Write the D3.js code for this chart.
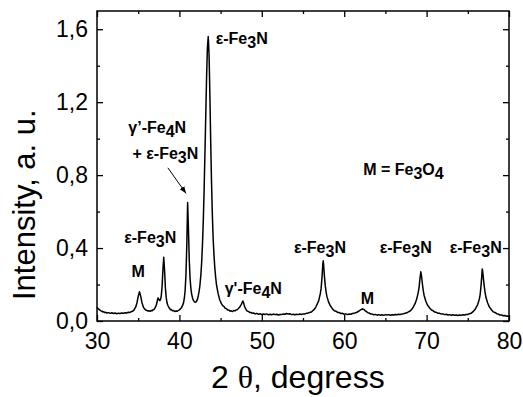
<!DOCTYPE html>
<html>
<head>
<meta charset="utf-8">
<script src="https://cdn.jsdelivr.net/npm/d3@7"></script>
<style>
  html, body { margin: 0; padding: 0; background: #fff; }
  svg { display: block; }
  text { font-family: "Liberation Sans", Arial, sans-serif; fill: #000; }
</style>
</head>
<body>
<svg id="chart" width="523" height="397"></svg>
<script>
// ---- data ----
const twoTheta = [
  30.0,30.1,30.2,30.3,30.4,30.5,30.6,30.7,30.8,30.9,31.0,31.2,31.4,31.6,31.8,32.0,32.2,32.4,32.6,32.8,33.0,33.2,33.4,33.6,33.8,34.0,34.15,34.3,
  34.5,34.7,34.85,35.0,35.15,35.3,35.45,35.6,35.7,35.8,35.9,36.0,36.15,36.3,36.45,36.6,36.7,36.8,36.9,
  37.0,37.2,37.4,37.5,37.6,37.7,37.8,37.9,38.0,38.1,38.2,38.3,38.4,38.5,38.6,38.8,38.9,39.0,39.15,39.3,39.45,39.6,39.75,39.9,40.0,40.1,40.2,40.3,40.4,
  40.5,40.6,40.7,40.8,40.9,41.0,41.1,41.2,41.3,41.4,41.5,41.6,41.7,41.8,41.9,42.0,42.1,42.2,42.3,42.4,42.5,42.6,42.7,42.8,42.9,43.0,43.1,43.2,43.3,43.4,43.5,43.6,
  43.7,43.8,43.9,44.0,44.1,44.2,44.3,44.4,44.5,44.7,44.9,45.1,45.25,45.4,45.55,45.7,45.85,46.0,46.15,46.3,46.45,46.6,46.75,46.9,47.0,47.1,47.3,47.5,47.6,47.7,47.8,47.9,
  48.1,48.25,48.4,48.55,48.7,48.85,49.0,49.2,49.4,49.6,49.8,50.0,50.2,50.4,50.6,50.8,51.0,51.2,51.4,51.6,51.8,52.0,52.2,52.4,52.6,52.8,53.0,53.2,53.4,53.6,53.8,
  54.0,54.2,54.4,54.6,54.8,55.0,55.2,55.4,55.6,55.8,56.0,56.15,56.3,56.45,56.6,56.9,57.1,57.2,57.3,57.4,57.45,57.5,57.6,57.7,
  57.8,57.9,58.1,58.3,58.6,58.8,59.0,59.2,59.4,59.6,59.8,60.0,60.2,60.4,60.6,60.8,61.0,61.2,61.4,61.55,61.7,61.85,62.0,62.1,62.2,62.3,62.4,62.55,62.7,62.85,
  63.0,63.2,63.4,63.6,63.8,64.0,64.2,64.4,64.6,64.8,65.0,65.2,65.4,65.6,65.8,66.0,66.2,66.4,66.6,66.8,67.0,67.2,67.4,67.6,67.8,68.0,68.15,68.3,
  68.6,68.8,69.0,69.1,69.2,69.3,69.4,69.5,69.6,69.7,69.9,70.1,70.4,70.6,70.8,71.0,71.2,71.4,71.6,71.8,72.0,72.2,72.4,72.6,72.8,73.0,73.2,73.4,73.6,73.8,
  74.0,74.2,74.4,74.6,74.8,75.0,75.2,75.4,75.6,75.9,76.2,76.4,76.5,
  76.6,76.7,76.75,76.8,76.9,77.0,77.1,77.2,77.4,77.6,77.9,78.1,78.3,78.5,78.7,78.9,79.1,79.3,79.5,79.7,79.85,80.0
];
const intensity = [
  0.075,0.070,0.066,0.061,0.059,0.055,0.054,0.050,0.051,0.047,0.048,0.044,0.046,0.042,0.045,0.041,0.044,0.040,0.043,0.041,0.044,0.042,0.045,0.044,0.048,0.047,0.051,0.053,
  0.061,0.077,0.100,0.135,0.160,0.137,0.102,0.080,0.070,0.066,0.060,0.059,0.055,0.056,0.053,0.058,0.056,0.062,0.063,
  0.068,0.088,0.126,0.120,0.112,0.116,0.138,0.189,0.282,0.350,0.278,0.183,0.128,0.100,0.085,0.069,0.062,0.063,0.056,0.057,0.052,0.055,0.054,0.059,0.061,0.066,0.070,0.077,0.087,
  0.100,0.125,0.170,0.260,0.420,0.650,0.500,0.330,0.230,0.175,0.145,0.125,0.113,0.106,0.103,0.104,0.110,0.120,0.140,0.165,0.200,0.250,0.320,0.420,0.550,0.720,0.920,1.130,1.340,1.500,1.560,1.460,
  1.240,0.980,0.760,0.580,0.450,0.360,0.290,0.240,0.200,0.150,0.115,0.095,0.084,0.080,0.070,0.068,0.060,0.060,0.054,0.056,0.052,0.057,0.056,0.061,0.062,0.066,0.075,0.090,0.100,0.110,0.098,0.080,
  0.062,0.054,0.052,0.046,0.047,0.042,0.044,0.039,0.042,0.037,0.040,0.035,0.038,0.036,0.039,0.034,0.037,0.034,0.038,0.035,0.037,0.033,0.036,0.035,0.038,0.037,0.041,0.038,0.040,0.035,0.037,
  0.034,0.037,0.035,0.038,0.036,0.039,0.038,0.042,0.043,0.047,0.049,0.055,0.061,0.068,0.081,0.110,0.150,0.180,0.235,0.310,0.330,0.310,0.245,0.195,
  0.160,0.135,0.105,0.085,0.065,0.056,0.054,0.047,0.046,0.041,0.042,0.037,0.039,0.035,0.038,0.037,0.041,0.042,0.046,0.047,0.053,0.056,0.062,0.064,0.067,0.064,0.063,0.056,0.052,0.046,
  0.044,0.039,0.038,0.034,0.036,0.032,0.035,0.032,0.034,0.031,0.035,0.033,0.035,0.032,0.034,0.033,0.036,0.034,0.037,0.036,0.039,0.040,0.043,0.045,0.050,0.055,0.062,0.070,
  0.095,0.120,0.160,0.190,0.235,0.270,0.240,0.200,0.165,0.140,0.110,0.088,0.070,0.060,0.056,0.049,0.047,0.042,0.042,0.038,0.039,0.035,0.037,0.033,0.035,0.032,0.034,0.031,0.033,0.030,
  0.033,0.031,0.034,0.033,0.036,0.036,0.040,0.042,0.050,0.065,0.090,0.120,0.145,
  0.190,0.250,0.285,0.275,0.230,0.190,0.155,0.130,0.100,0.078,0.060,0.050,0.047,0.040,0.038,0.033,0.033,0.029,0.030,0.026,0.027,0.024
];

const xTickValues = [30, 40, 50, 60, 70, 80];
const xMinorTicks = [35, 45, 55, 65, 75];
const yTickValues = [0, 0.4, 0.8, 1.2, 1.6];
const yTickLabels = ["0,0", "0,4", "0,8", "1,2", "1,6"];
const yMinorTicks = [0.2, 0.6, 1.0, 1.4];

const xTitle = ["2 ", "θ", ", degress"];
const yTitle = "Intensity, a. u.";

// annotation texts: parts [text, subscript?]
const annoTexts = [
  [["ε-Fe", 0], ["3", 1], ["N", 0]],
  [["γ’-Fe", 0], ["4", 1], ["N", 0]],
  [["+ ε-Fe", 0], ["3", 1], ["N", 0]],
  [["ε-Fe", 0], ["3", 1], ["N", 0]],
  [["M", 0]],
  [["γ'-Fe", 0], ["4", 1], ["N", 0]],
  [["ε-Fe", 0], ["3", 1], ["N", 0]],
  [["M", 0]],
  [["ε-Fe", 0], ["3", 1], ["N", 0]],
  [["ε-Fe", 0], ["3", 1], ["N", 0]],
  [["M = Fe", 0], ["3", 1], ["O", 0], ["4", 1]]
];
// annotation anchor positions in data units (2θ, intensity)
const annoX = [44.4, 33.8, 34.3, 33.3, 34.2, 45.5, 53.9, 62.0, 64.3, 72.8, 62.3];
const annoY = [1.52, 1.03, 0.89, 0.43, 0.24, 0.148, 0.372, 0.093, 0.372, 0.372, 0.80];
const arrowFrom = [38.6, 0.84];
const arrowTo = [40.8, 0.70];

// ---- chart ----
const svg = d3.select("#chart");
const margin = { left: 97, top: 11, right: 14, bottom: 76 };
const W = 523, H = 397;
const x = d3.scaleLinear().domain([30, 80]).range([margin.left, W - margin.right]);
const y = d3.scaleLinear().domain([0, 1.7]).range([H - margin.bottom, margin.top]);

const x0 = x.range()[0], x1 = x.range()[1], y0 = y.range()[0], y1 = y.range()[1];

// curve
const pts = twoTheta.map((t, i) => [t, intensity[i]]);
svg.append("path")
  .datum(pts)
  .attr("fill", "none")
  .attr("stroke", "#000")
  .attr("stroke-width", 1.5)
  .attr("stroke-linejoin", "round")
  .attr("d", d3.line().x(d => x(d[0])).y(d => y(d[1])));

// axes
const fontTick = 23;
function styleAxis(g) {
  g.select(".domain").remove();
  g.selectAll(".tick line").attr("stroke", "#000").attr("stroke-width", 1.3);
  g.selectAll("text").attr("font-size", fontTick).attr("font-family", "Liberation Sans, Arial, sans-serif").attr("fill", "#000");
}
svg.append("g").attr("transform", `translate(0,${y0})`)
  .call(d3.axisBottom(x).tickValues(xTickValues).tickSize(-6).tickPadding(12).tickFormat(d3.format("d")))
  .call(styleAxis);
svg.append("g").attr("transform", `translate(0,${y0})`)
  .call(d3.axisBottom(x).tickValues(xMinorTicks).tickSize(-3).tickFormat(""))
  .call(styleAxis);
svg.append("g").attr("transform", `translate(0,${y1})`)
  .call(d3.axisTop(x).tickValues(xTickValues).tickSize(-6).tickFormat(""))
  .call(styleAxis);
svg.append("g").attr("transform", `translate(0,${y1})`)
  .call(d3.axisTop(x).tickValues(xMinorTicks).tickSize(-3).tickFormat(""))
  .call(styleAxis);
svg.append("g").attr("transform", `translate(${x0},0)`)
  .call(d3.axisLeft(y).tickValues(yTickValues).tickSize(-6).tickPadding(9).tickFormat((d, i) => yTickLabels[i]))
  .call(styleAxis);
svg.append("g").attr("transform", `translate(${x0},0)`)
  .call(d3.axisLeft(y).tickValues(yMinorTicks).tickSize(-3).tickFormat(""))
  .call(styleAxis);
svg.append("g").attr("transform", `translate(${x1},0)`)
  .call(d3.axisRight(y).tickValues(yTickValues).tickSize(-6).tickFormat(""))
  .call(styleAxis);
svg.append("g").attr("transform", `translate(${x1},0)`)
  .call(d3.axisRight(y).tickValues(yMinorTicks).tickSize(-3).tickFormat(""))
  .call(styleAxis);

// frame
svg.append("rect")
  .attr("x", x0).attr("y", y1).attr("width", x1 - x0).attr("height", y0 - y1)
  .attr("fill", "none").attr("stroke", "#000").attr("stroke-width", 1.5);

// axis titles
const xt = svg.append("text").attr("x", 211).attr("y", 388).attr("font-size", 32);
xt.append("tspan").text(xTitle[0]);
xt.append("tspan").attr("font-family", "Liberation Serif, Times New Roman, serif").text(xTitle[1]);
xt.append("tspan").text(xTitle[2]);

svg.append("text")
  .attr("transform", "translate(35,300) rotate(-90)")
  .attr("font-size", 31)
  .text(yTitle);

// annotations
annoTexts.forEach((parts, i) => {
  const t = svg.append("text")
    .attr("x", x(annoX[i])).attr("y", y(annoY[i]))
    .attr("font-size", 16).attr("font-weight", "bold");
  let prevSub = 0;
  parts.forEach(([s, sub]) => {
    const ts = t.append("tspan").text(s);
    const dy = (sub ? 4 : 0) - (prevSub ? 4 : 0);
    if (dy !== 0) ts.attr("dy", dy);
    prevSub = sub;
  });
});

// arrow
const defs = svg.append("defs");
defs.append("marker").attr("id", "ah").attr("viewBox", "0 0 10 10")
  .attr("refX", 10).attr("refY", 5).attr("markerWidth", 7).attr("markerHeight", 7)
  .attr("orient", "auto").attr("markerUnits", "userSpaceOnUse")
  .append("path").attr("d", "M0,1 L10,5 L0,9 Z").attr("fill", "#000");
svg.append("line")
  .attr("x1", x(arrowFrom[0])).attr("y1", y(arrowFrom[1]))
  .attr("x2", x(arrowTo[0])).attr("y2", y(arrowTo[1]))
  .attr("stroke", "#000").attr("stroke-width", 1)
  .attr("marker-end", "url(#ah)");
</script>
</body>
</html>
